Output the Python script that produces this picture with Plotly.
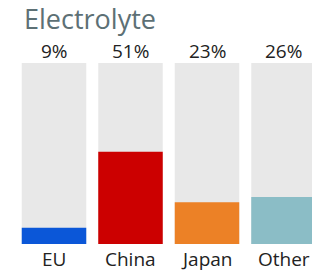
import plotly.graph_objects as go

title = "Electrolyte"
categories = ["EU", "China", "Japan", "Other"]
values = [9, 51, 23, 26]
colors = ["#0b57d8", "#cc0000", "#ec8126", "#8bbdc6"]
full = [100, 100, 100, 100]

x = list(range(len(categories)))

W, H = 312, 273
T, B = 63, 29
step = 76.5
first_center = 54

fig = go.Figure()
fig.add_trace(go.Bar(x=x, y=full, marker=dict(color="#e8e8e8", line=dict(width=0)),
                     hoverinfo="skip", showlegend=False))
fig.add_trace(go.Bar(x=x, y=values, marker=dict(color=colors, line=dict(width=0)),
                     showlegend=False))

font = "Open Sans, Noto Sans, sans-serif"
for xi, c, v in zip(x, categories, values):
    fig.add_annotation(x=xi, y=1, xref="x", yref="paper", text=f"{v}%", showarrow=False,
                       yanchor="bottom", yshift=-3, font=dict(family=font, size=19, color="#222222"))
    fig.add_annotation(x=xi, y=0, xref="x", yref="paper", text=c, showarrow=False,
                       yanchor="top", yshift=0, font=dict(family=font, size=19, color="#222222"))

fig.add_annotation(x=0, y=1 + T / (H - T - B), xref="paper", yref="paper", text=title,
                   showarrow=False, xanchor="left", yanchor="top", xshift=22, yshift=2,
                   font=dict(family=font, size=27, color="#5d7075"))

r0 = -first_center / step
fig.update_layout(
    width=W, height=H,
    margin=dict(l=0, r=0, t=T, b=B, pad=0),
    barmode="overlay", bargap=12 / step,
    plot_bgcolor="white", paper_bgcolor="white",
    xaxis=dict(range=[r0, r0 + W / step], visible=False, fixedrange=True),
    yaxis=dict(range=[0, 100], visible=False, fixedrange=True),
)
fig.write_html("out.html", config={"displayModeBar": False, "staticPlot": True},
               post_script="document.body.style.margin='0';document.body.style.overflow='hidden';")
